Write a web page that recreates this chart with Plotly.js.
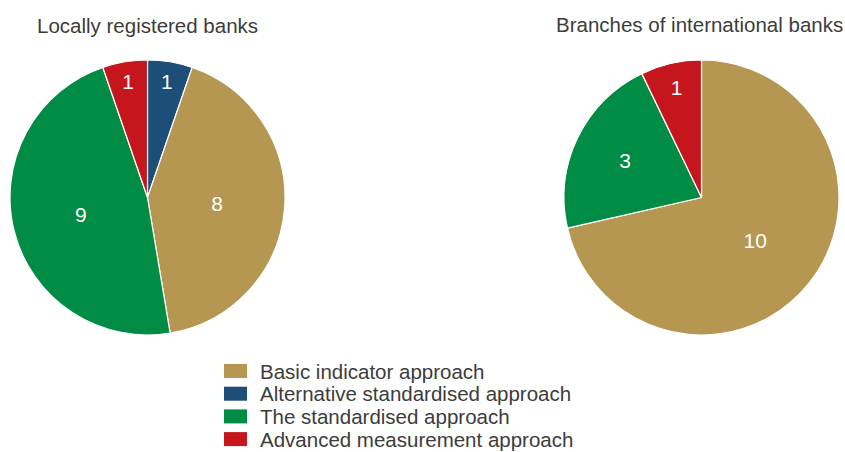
<!DOCTYPE html>
<html>
<head>
<meta charset="utf-8">
<script src="https://cdn.plot.ly/plotly-3.0.1.min.js"></script>
<style>html,body{margin:0;padding:0;background:#fff;}#chart{width:845px;height:452px;}</style>
</head>
<body>
<div id="chart"></div>
<script>
// Categories (legend order) and colours
const categories = ["Basic indicator approach", "Alternative standardised approach", "The standardised approach", "Advanced measurement approach"];
const catColors = ["#B59751", "#1D4E78", "#008C45", "#C4161C"];

// Left pie: Locally registered banks (clockwise from 12 o'clock)
const localLabels = ["Alternative standardised approach", "Basic indicator approach", "The standardised approach", "Advanced measurement approach"];
const localValues = [1, 8, 9, 1];

// Right pie: Branches of international banks (clockwise from 12 o'clock)
const branchLabels = ["Basic indicator approach", "The standardised approach", "Advanced measurement approach"];
const branchValues = [10, 3, 1];

const panelTitles = ["Locally registered banks", "Branches of international banks"];

const W = 845, H = 452;
const FONT = "Liberation Sans, Arial, sans-serif";
const TXT = "#3c3c3c";
const colorOf = l => catColors[categories.indexOf(l)];

function pie(labels, values, x0, x1) {
  return {
    type: "pie", labels: labels, values: values, sort: false, direction: "clockwise", rotation: 0,
    marker: {colors: labels.map(colorOf), line: {color: "#ffffff", width: 1.2}},
    textinfo: "value", textposition: "inside", insidetextorientation: "horizontal",
    textfont: {family: FONT, size: 21, color: "#ffffff"},
    hoverinfo: "label+value", showlegend: false,
    domain: {x: [x0 / W, x1 / W], y: [(H - 335) / H, (H - 60) / H]}
  };
}

const data = [pie(localLabels, localValues, 10, 285), pie(branchLabels, branchValues, 564, 839)];

const annotations = [
  {text: panelTitles[0], x: 147.5 / W, y: (H - 25.5) / H},
  {text: panelTitles[1], x: 699 / W, y: (H - 24.5) / H}
].map(a => Object.assign(a, {xref: "paper", yref: "paper", xanchor: "center", yanchor: "middle", showarrow: false, font: {family: FONT, size: 20.5, color: TXT}}));

const shapes = [];
const legTop = 371, legStep = 22.7;
categories.forEach((c, i) => {
  const yc = legTop + i * legStep;
  shapes.push({type: "rect", xref: "paper", yref: "paper", x0: 224 / W, x1: 247 / W,
    y0: (H - (yc + 7)) / H, y1: (H - (yc - 7)) / H, fillcolor: catColors[i], line: {width: 0}});
  annotations.push({text: c, xref: "paper", yref: "paper", x: 258 / W, y: (H - yc) / H, xanchor: "left", yanchor: "middle",
    showarrow: false, font: {family: FONT, size: 20.5, color: TXT}});
});

const layout = {
  width: W, height: H, margin: {l: 0, r: 0, t: 0, b: 0},
  paper_bgcolor: "#ffffff", plot_bgcolor: "#ffffff", showlegend: false,
  annotations: annotations, shapes: shapes
};

Plotly.newPlot("chart", data, layout, {displayModeBar: false, staticPlot: true});
</script>
</body>
</html>
